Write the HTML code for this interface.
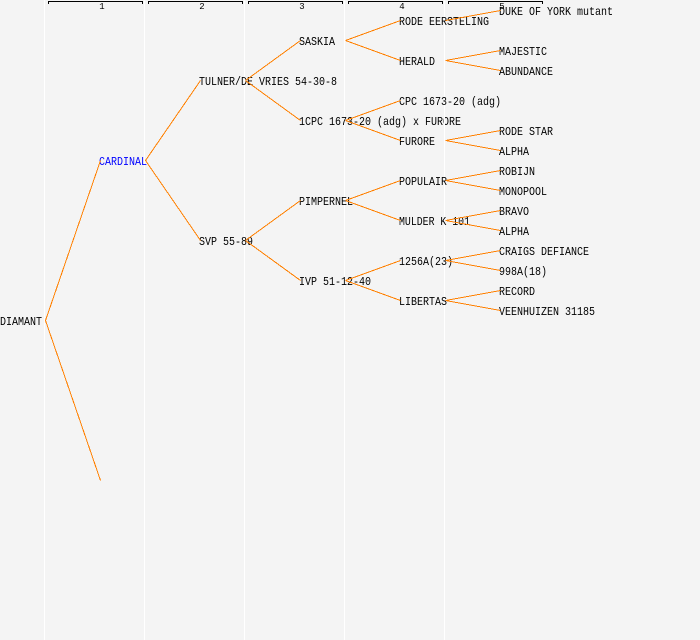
<!DOCTYPE html>
<html><head><meta charset="utf-8"><style>
html,body{margin:0;padding:0;background:#f4f4f4;width:700px;height:640px;overflow:hidden}
svg{display:block}
text{font-family:"Liberation Mono",monospace;font-size:12px;fill:#000}
.n{font-size:9px;text-anchor:middle}
.b path{stroke:#000;fill:none;stroke-width:1}
.c line{stroke:#ff8000;stroke-width:1}
</style></head><body>
<svg width="700" height="640" viewBox="0 0 700 640" xmlns="http://www.w3.org/2000/svg">
<rect width="700" height="640" fill="#f4f4f4"/>
<g fill="#fff" shape-rendering="crispEdges">
<rect x="44" y="0" width="1" height="640"/><rect x="144" y="0" width="1" height="640"/><rect x="244" y="0" width="1" height="640"/><rect x="344" y="0" width="1" height="640"/><rect x="444" y="0" width="1" height="640"/>
</g>
<g class="b" shape-rendering="crispEdges">
<path d="M48.5 4V1.5H142.5V4"/><path d="M148.5 4V1.5H242.5V4"/><path d="M248.5 4V1.5H342.5V4"/><path d="M348.5 4V1.5H442.5V4"/><path d="M448.5 4V1.5H542.5V4"/>
</g>
<text class="n" x="102" y="9">1</text><text class="n" x="202" y="9">2</text><text class="n" x="302" y="9">3</text><text class="n" x="402" y="9">4</text><text class="n" x="502" y="9">5</text>
<g transform="translate(0,-1)">
<text x="0" y="326" textLength="42" lengthAdjust="spacingAndGlyphs">DIAMANT</text>
<text x="99" y="166" textLength="48" lengthAdjust="spacingAndGlyphs" style="fill:#0000ff">CARDINAL</text>
<text x="199" y="86" textLength="138" lengthAdjust="spacingAndGlyphs">TULNER/DE VRIES 54-30-8</text>
<text x="199" y="246" textLength="54" lengthAdjust="spacingAndGlyphs">SVP 55-89</text>
<text x="299" y="46" textLength="36" lengthAdjust="spacingAndGlyphs">SASKIA</text>
<text x="299" y="126" textLength="162" lengthAdjust="spacingAndGlyphs">1CPC 1673-20 (adg) x FURORE</text>
<text x="299" y="206" textLength="54" lengthAdjust="spacingAndGlyphs">PIMPERNEL</text>
<text x="299" y="286" textLength="72" lengthAdjust="spacingAndGlyphs">IVP 51-12-40</text>
<text x="399" y="26" textLength="90" lengthAdjust="spacingAndGlyphs">RODE EERSTELING</text>
<text x="399" y="66" textLength="36" lengthAdjust="spacingAndGlyphs">HERALD</text>
<text x="399" y="106" textLength="102" lengthAdjust="spacingAndGlyphs">CPC 1673-20 (adg)</text>
<text x="399" y="146" textLength="36" lengthAdjust="spacingAndGlyphs">FURORE</text>
<text x="399" y="186" textLength="48" lengthAdjust="spacingAndGlyphs">POPULAIR</text>
<text x="399" y="226" textLength="71" lengthAdjust="spacingAndGlyphs">MULDER K 101</text>
<text x="399" y="266" textLength="54" lengthAdjust="spacingAndGlyphs">1256A(23)</text>
<text x="399" y="306" textLength="48" lengthAdjust="spacingAndGlyphs">LIBERTAS</text>
<text x="499" y="16" textLength="114" lengthAdjust="spacingAndGlyphs">DUKE OF YORK mutant</text>
<text x="499" y="56" textLength="48" lengthAdjust="spacingAndGlyphs">MAJESTIC</text>
<text x="499" y="76" textLength="54" lengthAdjust="spacingAndGlyphs">ABUNDANCE</text>
<text x="499" y="136" textLength="54" lengthAdjust="spacingAndGlyphs">RODE STAR</text>
<text x="499" y="156" textLength="30" lengthAdjust="spacingAndGlyphs">ALPHA</text>
<text x="499" y="176" textLength="36" lengthAdjust="spacingAndGlyphs">ROBIJN</text>
<text x="499" y="196" textLength="48" lengthAdjust="spacingAndGlyphs">MONOPOOL</text>
<text x="499" y="216" textLength="30" lengthAdjust="spacingAndGlyphs">BRAVO</text>
<text x="499" y="236" textLength="30" lengthAdjust="spacingAndGlyphs">ALPHA</text>
<text x="499" y="256" textLength="90" lengthAdjust="spacingAndGlyphs">CRAIGS DEFIANCE</text>
<text x="499" y="276" textLength="48" lengthAdjust="spacingAndGlyphs">998A(18)</text>
<text x="499" y="296" textLength="36" lengthAdjust="spacingAndGlyphs">RECORD</text>
<text x="499" y="316" textLength="96" lengthAdjust="spacingAndGlyphs">VEENHUIZEN 31185</text>
</g>
<rect x="444" y="115" width="1" height="12" fill="#fff" shape-rendering="crispEdges"/>
<g class="c" shape-rendering="crispEdges" transform="translate(0.5,-0.5)">
<line x1="45" y1="321" x2="100" y2="161"/><line x1="45" y1="321" x2="100" y2="481"/>
<line x1="145" y1="161" x2="200" y2="81"/><line x1="145" y1="161" x2="200" y2="241"/>
<line x1="245" y1="81" x2="300" y2="41"/><line x1="245" y1="81" x2="300" y2="121"/>
<line x1="245" y1="241" x2="300" y2="201"/><line x1="245" y1="241" x2="300" y2="281"/>
<line x1="345" y1="41" x2="400" y2="21"/><line x1="345" y1="41" x2="400" y2="61"/>
<line x1="345" y1="121" x2="400" y2="101"/><line x1="345" y1="121" x2="400" y2="141"/>
<line x1="345" y1="201" x2="400" y2="181"/><line x1="345" y1="201" x2="400" y2="221"/>
<line x1="345" y1="281" x2="400" y2="261"/><line x1="345" y1="281" x2="400" y2="301"/>
<line x1="445" y1="21" x2="500" y2="11"/>
<line x1="445" y1="61" x2="500" y2="51"/><line x1="445" y1="61" x2="500" y2="71"/>
<line x1="445" y1="141" x2="500" y2="131"/><line x1="445" y1="141" x2="500" y2="151"/>
<line x1="445" y1="181" x2="500" y2="171"/><line x1="445" y1="181" x2="500" y2="191"/>
<line x1="445" y1="221" x2="500" y2="211"/><line x1="445" y1="221" x2="500" y2="231"/>
<line x1="445" y1="261" x2="500" y2="251"/><line x1="445" y1="261" x2="500" y2="271"/>
<line x1="445" y1="301" x2="500" y2="291"/><line x1="445" y1="301" x2="500" y2="311"/>
</g>
</svg>
</body></html>
